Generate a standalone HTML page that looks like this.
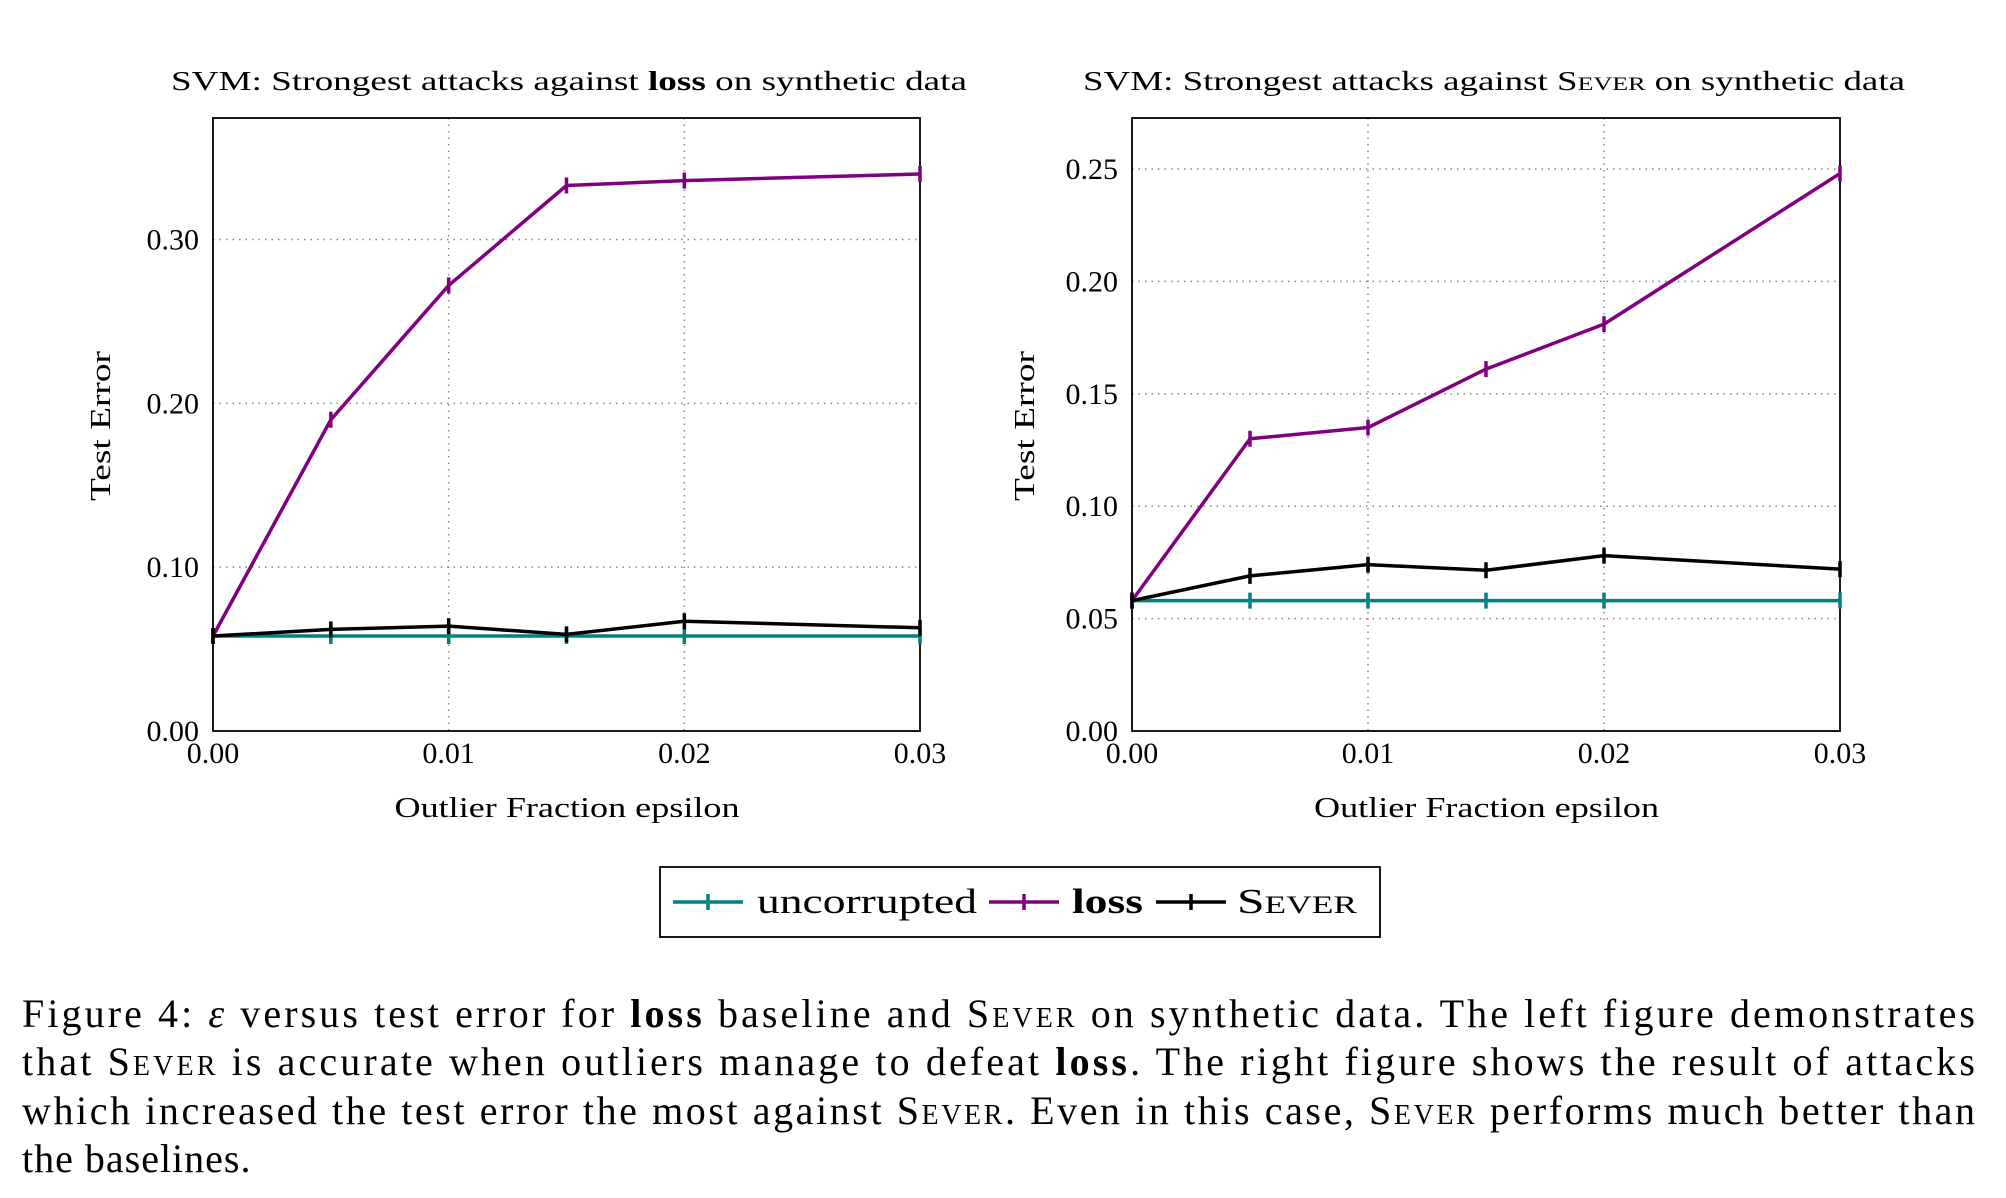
<!DOCTYPE html>
<html><head><meta charset="utf-8"><style>
body{margin:0;background:#fff;width:2006px;height:1198px;overflow:hidden;font-family:"Liberation Serif",serif}
svg{position:absolute;left:0;top:0}
</style></head><body>
<svg id="chart" width="2006" height="1198"></svg>
<svg id="cap" width="2006" height="1198" style="pointer-events:none" font-family="Liberation Serif, serif" font-size="40">
<text x="22" y="1027" textLength="1953" lengthAdjust="spacing">Figure 4: <tspan font-style="italic">ε</tspan> versus test error for <tspan font-weight="bold">loss</tspan> baseline and <tspan font-variant="small-caps">Sever</tspan> on synthetic data. The left figure demonstrates</text>
<text x="22" y="1075" textLength="1953" lengthAdjust="spacing">that <tspan font-variant="small-caps">Sever</tspan> is accurate when outliers manage to defeat <tspan font-weight="bold">loss</tspan>. The right figure shows the result of attacks</text>
<text x="22" y="1124" textLength="1953" lengthAdjust="spacing">which increased the test error the most against <tspan font-variant="small-caps">Sever</tspan>. Even in this case, <tspan font-variant="small-caps">Sever</tspan> performs much better than</text>
<text x="22" y="1172" letter-spacing="1">the baselines.</text>
</svg>
<script>
const xValues=[0,0.005,0.01,0.015,0.02,0.03];
const xTicks=[0,0.01,0.02,0.03];
const xTickLabels=["0.00","0.01","0.02","0.03"];
const leftUncorrupted=[0.058,0.058,0.058,0.058,0.058,0.058];
const leftLoss=[0.058,0.19,0.272,0.333,0.336,0.340];
const leftSever=[0.058,0.062,0.064,0.059,0.067,0.063];
const leftYTicks=[0,0.1,0.2,0.3];
const leftYTickLabels=["0.00","0.10","0.20","0.30"];
const rightUncorrupted=[0.058,0.058,0.058,0.058,0.058,0.058];
const rightLoss=[0.058,0.130,0.135,0.161,0.181,0.248];
const rightSever=[0.058,0.069,0.074,0.0715,0.078,0.072];
const rightYTicks=[0,0.05,0.1,0.15,0.2,0.25];
const rightYTickLabels=["0.00","0.05","0.10","0.15","0.20","0.25"];
const NS="http://www.w3.org/2000/svg";
const svg=document.getElementById('chart');
function mk(tag,attrs,parent){const e=document.createElementNS(NS,tag);for(const k in attrs)e.setAttribute(k,attrs[k]);(parent||svg).appendChild(e);return e;}
function panel(o){
  const g=mk('g',{});
  
  
  const X=v=>o.x0+(v-0)/(0.03)*(o.x1-o.x0);
  const Y=v=>o.y1-v/o.ymax*(o.y1-o.y0);
  xTicks.forEach((t,i)=>{
    if(i>0&&i<xTicks.length-1){const l=mk('line',{x1:X(t),x2:X(t),y1:o.y0,y2:o.y1,stroke:'#888','stroke-width':1.5,'stroke-dasharray':'1.5 5'},g);}
    const tx=mk('text',{x:X(t),y:o.y1+32,'text-anchor':'middle','font-size':30},g);tx.textContent=xTickLabels[i];
    
  });
  o.yTicks.forEach((t,i)=>{
    if(t>0){const l=mk('line',{x1:o.x0,x2:o.x1,y1:Y(t),y2:Y(t),stroke:'#888','stroke-width':1.5,'stroke-dasharray':'1.5 5'},g);}
    const tx=mk('text',{x:o.x0-14,y:Y(t)+10,'text-anchor':'end','font-size':30},g);tx.textContent=o.yLabels[i];
    
  });
  const fr=mk('rect',{x:o.x0,y:o.y0,width:o.x1-o.x0,height:o.y1-o.y0,fill:'none',stroke:'#000','stroke-width':1.8},g);
  
  o.series.forEach(s=>{
    const pl=mk('polyline',{points:s.v.map((v,i)=>X(xValues[i])+','+Y(v)).join(' '),fill:'none',stroke:s.c,'stroke-width':3.5,'stroke-linejoin':'round'},g);
    
    s.v.forEach((v,i)=>{const m=mk('line',{x1:X(xValues[i]),x2:X(xValues[i]),y1:Y(v)-8,y2:Y(v)+8,stroke:s.c,'stroke-width':3.5},g);
      });
  });
  const t=mk('text',{x:o.tx,y:90,'font-size':27,textLength:o.tw,lengthAdjust:'spacingAndGlyphs'},g);
  t.innerHTML=o.title;
  const xl=mk('text',{x:(o.x0+o.x1)/2-172,y:817,'font-size':29,textLength:345,lengthAdjust:'spacingAndGlyphs'},g);
  xl.textContent='Outlier Fraction epsilon';
  const yl=mk('text',{x:-75,y:0,'font-size':29,textLength:150,lengthAdjust:'spacingAndGlyphs',transform:`translate(${o.ylx},426) rotate(-90)`},g);
  yl.textContent='Test Error';
}
panel({name:'left-chart',x0:213,x1:920,y0:118,y1:731,ymax:0.3742,yTicks:leftYTicks,yLabels:leftYTickLabels,ylx:110,tx:171,tw:796,
  title:'SVM: Strongest attacks against <tspan font-weight="bold">loss</tspan> on synthetic data',
  series:[{n:'uncorrupted',v:leftUncorrupted,c:'#008080'},{n:'loss',v:leftLoss,c:'#800080'},{n:'sever',v:leftSever,c:'#000'}]});
panel({name:'right-chart',x0:1132,x1:1840,y0:118,y1:731,ymax:0.2727,yTicks:rightYTicks,yLabels:rightYTickLabels,ylx:1034,tx:1083,tw:822,
  title:'SVM: Strongest attacks against <tspan font-variant="small-caps">Sever</tspan> on synthetic data',
  series:[{n:'uncorrupted',v:rightUncorrupted,c:'#008080'},{n:'loss',v:rightLoss,c:'#800080'},{n:'sever',v:rightSever,c:'#000'}]});
const lg=mk('g',{});


mk('rect',{x:660,y:867,width:720,height:70,fill:'#fff',stroke:'#000','stroke-width':1.8},lg);
const items=[{n:'uncorrupted',c:'#008080',x:673,tx:757,w:220,txt:'uncorrupted'},{n:'loss',c:'#800080',x:989,tx:1072,w:71,txt:'loss',b:1},{n:'sever',c:'#000',x:1156,tx:1237,w:120,txt:'Sever',sc:1}];
items.forEach(it=>{
  const e=mk('g',{},lg);
  
  
  mk('line',{x1:it.x,x2:it.x+70,y1:902,y2:902,stroke:it.c,'stroke-width':3.5},e);
  mk('line',{x1:it.x+35,x2:it.x+35,y1:894,y2:910,stroke:it.c,'stroke-width':3.5},e);
  const t=mk('text',{x:it.tx,y:913,'font-size':35,textLength:it.w,lengthAdjust:'spacingAndGlyphs'},e);
  if(it.b)t.setAttribute('font-weight','bold');
  if(it.sc)t.setAttribute('font-variant','small-caps');
  t.textContent=it.txt;
});
</script>
</body></html>
